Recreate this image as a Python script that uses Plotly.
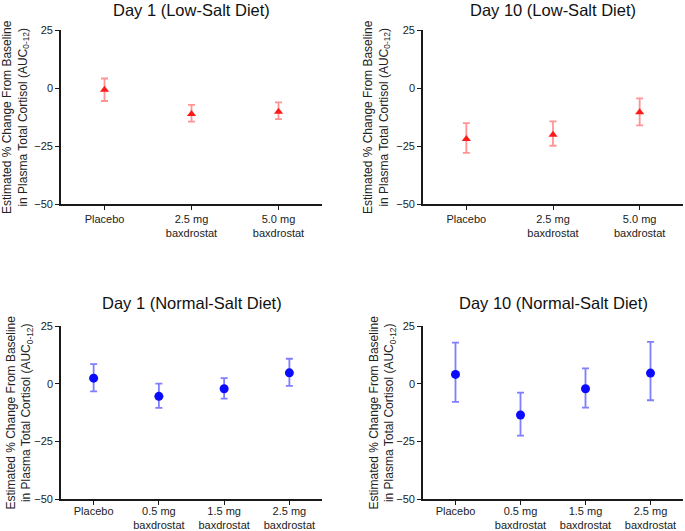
import plotly.graph_objects as go
from plotly.subplots import make_subplots

# category labels
low_salt_groups = ["Placebo", "2.5 mg<br>baxdrostat", "5.0 mg<br>baxdrostat"]
normal_salt_groups = ["Placebo", "0.5 mg<br>baxdrostat", "1.5 mg<br>baxdrostat", "2.5 mg<br>baxdrostat"]

# estimates with upper / lower CI
day1_low_mean = [-0.8, -11.2, -10.2]
day1_low_upper = [4.1, -7.3, -6.2]
day1_low_lower = [-5.6, -14.5, -13.4]

day10_low_mean = [-22.0, -20.1, -10.5]
day10_low_upper = [-15.1, -14.4, -4.5]
day10_low_lower = [-28.0, -24.9, -16.1]

day1_normal_mean = [2.4, -5.5, -2.2, 4.7]
day1_normal_upper = [8.5, 0.0, 2.4, 10.8]
day1_normal_lower = [-3.3, -10.5, -6.5, -1.0]

day10_normal_mean = [4.0, -13.6, -2.2, 4.6]
day10_normal_upper = [17.8, -3.9, 6.6, 18.1]
day10_normal_lower = [-7.9, -22.5, -10.4, -7.2]

titles = ["Day 1 (Low-Salt Diet)", "Day 10 (Low-Salt Diet)",
          "Day 1 (Normal-Salt Diet)", "Day 10 (Normal-Salt Diet)"]
y_ticks = [25, 0, -25, -50]

FONT = "Liberation Sans, Arial, sans-serif"
W, H = 685, 531

panels = [
    (low_salt_groups, day1_low_mean, day1_low_upper, day1_low_lower, "red"),
    (low_salt_groups, day10_low_mean, day10_low_upper, day10_low_lower, "red"),
    (normal_salt_groups, day1_normal_mean, day1_normal_upper, day1_normal_lower, "blue"),
    (normal_salt_groups, day10_normal_mean, day10_normal_upper, day10_normal_lower, "blue"),
]

# pixel boxes of each plot area (left, right, top, bottom)
boxes = [(61, 322, 30, 204), (423, 683, 30, 204),
         (61, 322, 326, 499), (423, 683, 326, 499)]
ytitle_off = [45, 46, 42, 41]
title_y = [10, 10, 303, 303]
xlabel_standoff = [0, 0, -3, -3]

fig = make_subplots(rows=2, cols=2)

styles = {
    "red": dict(marker="triangle-up", size=8, color="#ff1a1a", err="rgba(255,60,60,0.55)"),
    "blue": dict(marker="circle", size=9, color="#0a0aff", err="rgba(40,40,255,0.6)"),
}

annotations = []
for i, (cats, mean, up, lo, col) in enumerate(panels):
    r, c = i // 2 + 1, i % 2 + 1
    st = styles[col]
    fig.add_trace(
        go.Scatter(
            x=list(range(len(cats))),
            y=mean,
            mode="markers",
            marker=dict(symbol=st["marker"], size=st["size"], color=st["color"]),
            error_y=dict(
                type="data",
                symmetric=False,
                array=[u - m for u, m in zip(up, mean)],
                arrayminus=[m - l for m, l in zip(mean, lo)],
                color=st["err"],
                thickness=1.8,
                width=3.5,
            ),
            showlegend=False,
        ),
        row=r, col=c,
    )
    x0, x1, y0, y1 = boxes[i]
    xa = "xaxis" if i == 0 else f"xaxis{i + 1}"
    ya = "yaxis" if i == 0 else f"yaxis{i + 1}"
    fig.layout[xa].update(
        domain=[x0 / W, x1 / W],
        range=[-0.5, len(cats) - 0.5],
        tickvals=list(range(len(cats))),
        ticktext=cats,
        automargin=False,
        ticklabelstandoff=xlabel_standoff[i],
        showline=True, linecolor="#1a1a1a", linewidth=1.6,
        ticks="outside", ticklen=4, tickwidth=1.2, tickcolor="#1a1a1a",
        showgrid=False, zeroline=False,
        tickfont=dict(family=FONT, size=11, color="#222"),
    )
    fig.layout[ya].update(
        domain=[1 - y1 / H, 1 - y0 / H],
        range=[-50, 25],
        tickvals=y_ticks,
        automargin=False,
        showline=True, linecolor="#1a1a1a", linewidth=1.6,
        ticks="outside", ticklen=4, tickwidth=1.2, tickcolor="#1a1a1a",
        showgrid=False, zeroline=False,
        tickfont=dict(family=FONT, size=11, color="#222"),
    )
    annotations.append(dict(
        text=titles[i], xref="paper", yref="paper",
        x=(x0 + x1) / 2 / W, y=1 - title_y[i] / H,
        xanchor="center", yanchor="middle", showarrow=False,
        font=dict(family=FONT, size=16.5, color="#111"),
    ))
    annotations.append(dict(
        text="Estimated % Change From Baseline<br>in Plasma Total Cortisol (AUC<sub>0-12</sub>)",
        xref="paper", yref="paper",
        x=(x0 - ytitle_off[i]) / W, y=1 - (y0 + y1) / 2 / H,
        xanchor="center", yanchor="middle", textangle=-90, showarrow=False,
        font=dict(family=FONT, size=12, color="#222"),
    ))

fig.update_layout(
    template="none",
    width=W, height=H,
    margin=dict(l=0, r=0, t=0, b=0, pad=0),
    paper_bgcolor="white", plot_bgcolor="white",
    annotations=annotations,
    font=dict(family=FONT),
)

# drop the default page margin so the figure sits at the window's corner
fig.write_html(
    "out.html",
    config={"displayModeBar": False},
    post_script="document.body.style.margin='0';",
)
